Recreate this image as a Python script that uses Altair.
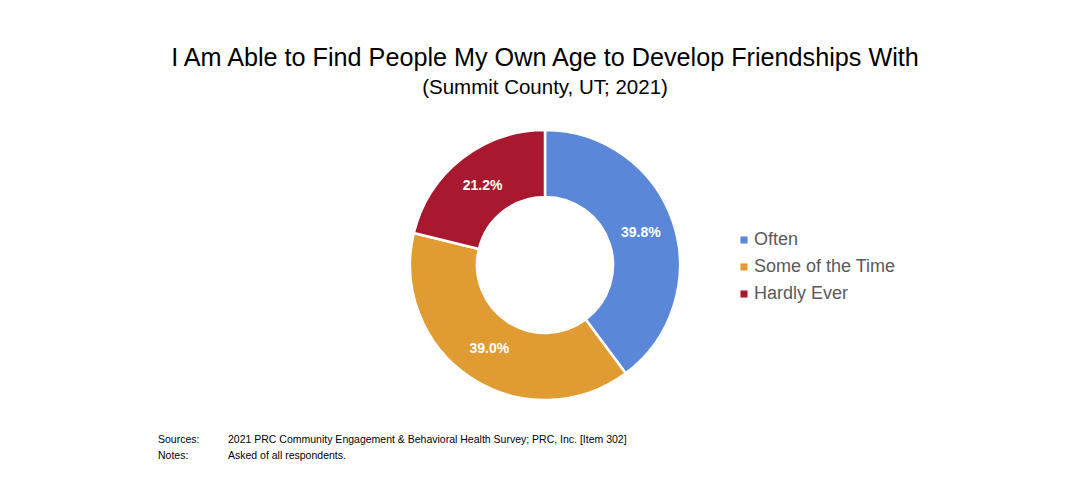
import altair as alt
import pandas as pd

categories = ["Often", "Some of the Time", "Hardly Ever"]
values = [39.8, 39.0, 21.2]
labels = ["39.8%", "39.0%", "21.2%"]
colors = ["#5B87D9", "#E09B33", "#A8192F"]

title_text = "I Am Able to Find People My Own Age to Develop Friendships With"
subtitle_text = "(Summit County, UT; 2021)"
footer_keys = ["Sources:", "Notes:"]
footer_vals = ["2021 PRC Community Engagement & Behavioral Health Survey; PRC, Inc. [Item 302]",
               "Asked of all respondents."]

df = pd.DataFrame({"cat": categories, "val": values, "lab": labels, "ord": [0, 1, 2]})

cx, cy = 537, 257
color_scale = alt.Scale(domain=categories, range=colors)

base = alt.Chart(df).encode(
    theta=alt.Theta("val:Q", stack=True),
    order=alt.Order("ord:Q"),
)

arcs = base.mark_arc(outerRadius=135, innerRadius=68, stroke="white", strokeWidth=2.5).encode(
    x=alt.value(cx), y=alt.value(cy),
    color=alt.Color("cat:N", scale=color_scale, sort=categories,
                    legend=alt.Legend(title=None, orient="none", legendX=727, legendY=223,
                                      symbolType="square", symbolSize=50, labelFontSize=18,
                                      labelColor="#595959", labelFont="Liberation Sans",
                                      rowPadding=9, labelOffset=1, symbolStrokeWidth=0)),
)

texts = base.mark_text(radius=101, color="white", fontSize=14, fontWeight="bold",
                       font="Liberation Sans").encode(
    x=alt.value(cx), y=alt.value(cy), text="lab:N")


def line_text(t, x, y, size, align="center"):
    return alt.Chart(pd.DataFrame({"t": [t]})).mark_text(
        fontSize=size, font="Liberation Sans", color="black", align=align, baseline="middle"
    ).encode(x=alt.value(x), y=alt.value(y), text="t:N")


title = line_text(title_text, 537, 50, 25.2)
subtitle = line_text(subtitle_text, 537, 80, 20.5)
fk0 = line_text(footer_keys[0], 150, 432, 10.5, "left")
fk1 = line_text(footer_keys[1], 150, 448, 10.5, "left")
fv0 = line_text(footer_vals[0], 220, 432, 10.5, "left")
fv1 = line_text(footer_vals[1], 220, 448, 10.5, "left")

chart = alt.layer(arcs, texts, title, subtitle, fk0, fk1, fv0, fv1).properties(
    width=1060, height=478, padding=0, autosize="none",
    view=alt.ViewBackground(stroke="white", strokeWidth=0, strokeOpacity=0),
).configure_view(strokeWidth=0, stroke="white", strokeOpacity=0).configure(background="white")

chart.save("out.html", embed_options={"renderer": "svg", "actions": False})
